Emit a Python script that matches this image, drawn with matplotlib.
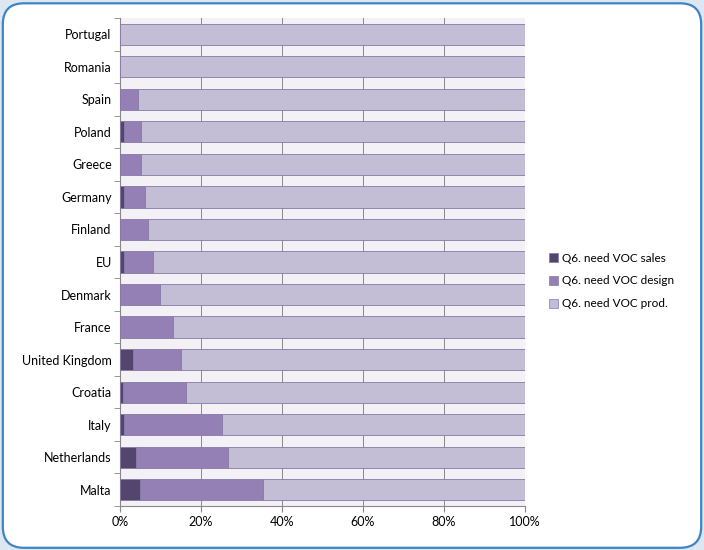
import matplotlib.pyplot as plt
from matplotlib.patches import FancyBboxPatch, Patch
import numpy as np

plt.rcParams['font.family'] = ['Lato', 'DejaVu Sans']

countries = ['Portugal', 'Romania', 'Spain', 'Poland', 'Greece', 'Germany', 'Finland', 'EU',
             'Denmark', 'France', 'United Kingdom', 'Croatia', 'Italy', 'Netherlands', 'Malta']
sales = [0, 0, 0, 1.0, 0, 1.0, 0, 1.0, 0, 0, 3.3, 0.7, 1.0, 3.9, 4.9]
design = [0, 0, 4.4, 4.1, 5.1, 5.1, 6.8, 7.1, 9.9, 13.0, 11.7, 15.5, 24.2, 22.7, 30.4]
prod = [100 - s - d for s, d in zip(sales, design)]

labels = ['Q6. need VOC sales', 'Q6. need VOC design', 'Q6. need VOC prod.']
colors = ['#54456f', '#9480b4', '#c4bdd6']

fig = plt.figure(figsize=(7.04, 5.5), dpi=100, facecolor='#dde7f2')

# rounded blue frame behind everything
frame = FancyBboxPatch((0.004, 0.004), 0.992, 0.99, boxstyle='round,pad=0,rounding_size=0.03',
                       transform=fig.transFigure, facecolor='white', edgecolor='#3f84c4',
                       linewidth=1.6, mutation_aspect=704 / 550, zorder=-10)
fig.patches.append(frame)

ax = fig.add_axes([120 / 704, 1 - 506 / 550, 405 / 704, 488 / 550])
ax.set_zorder(5)
ax.set_facecolor('#f3f1f6')

y = np.arange(len(countries))
left = np.zeros(len(countries))
for vals, c, lab in zip([sales, design, prod], colors, labels):
    ax.barh(y, vals, left=left, height=0.65, color=c, edgecolor='#8579a6', linewidth=0.6,
            label=lab, zorder=3)
    left = left + np.array(vals)

ax.set_ylim(len(countries) - 0.5, -0.5)
ax.set_xlim(0, 100)
ax.set_xticks([0, 20, 40, 60, 80, 100])
ax.set_xticklabels(['0%', '20%', '40%', '60%', '80%', '100%'], fontsize=9)
ax.set_yticks(y)
ax.set_yticklabels(countries, fontsize=9)
ax.set_yticks(np.arange(len(countries) + 1) - 0.5, minor=True)
ax.tick_params(axis='y', which='major', length=0, pad=6)
ax.tick_params(axis='y', which='minor', length=4, color='#888888')
ax.tick_params(axis='x', length=4, color='#888888')
ax.grid(axis='x', color='#888888', linewidth=0.7, zorder=0)

for s in ['top', 'right']:
    ax.spines[s].set_visible(False)
ax.spines['left'].set_color('#888888')
ax.spines['bottom'].set_color('#888888')

handles = [Patch(facecolor=c, edgecolor='#8579a6', linewidth=0.5) for c in colors]
leg = fig.legend(handles, labels, loc='center left', bbox_to_anchor=(538 / 704, 1 - 281 / 550),
                 frameon=False, fontsize=8.5, handlelength=0.8, handleheight=0.8,
                 handletextpad=0.3, labelspacing=1.0)
leg.set_zorder(6)

fig.savefig('out.png', dpi=100, facecolor=fig.get_facecolor())
